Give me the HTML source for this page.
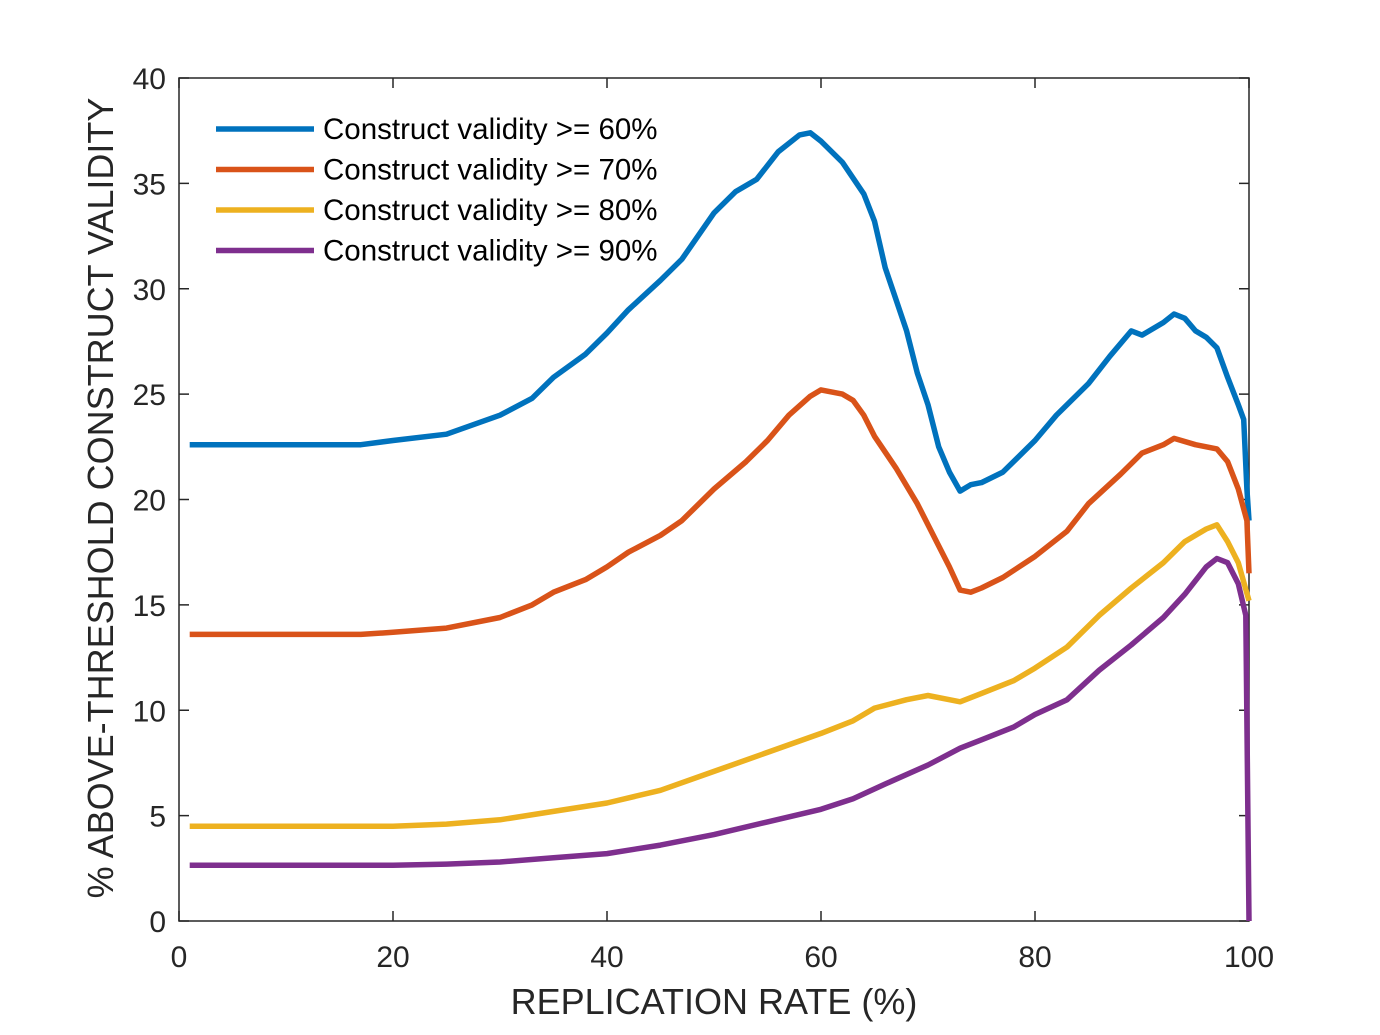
<!DOCTYPE html>
<html><head><meta charset="utf-8">
<style>
html,body{margin:0;padding:0;background:#fff;}
svg{display:block;font-family:"Liberation Sans",Arial,sans-serif;}
</style></head>
<body>
<svg id="chart" width="1380" height="1035" viewBox="0 0 1380 1035" xmlns="http://www.w3.org/2000/svg">
<rect x="0" y="0" width="1380" height="1035" fill="#fff"/>
<g id="plot"></g>
</svg>
<script>
const xTicks=[0,20,40,60,80,100];
const yTicks=[0,5,10,15,20,25,30,35,40];
const seriesNames=["Construct validity >= 60%","Construct validity >= 70%","Construct validity >= 80%","Construct validity >= 90%"];
const seriesColors=["#0072BD","#D95319","#EDB120","#7E2F8E"];
const blueX=[1,17,20,25,30,33,35,38,40,42,45,47,50,52,54,56,58,59,60,62,64,65,66,67,68,69,70,71,72,73,74,75,77,80,82,85,87,89,90,92,93,94,95,96,97,98,99,99.5,99.8,100];
const blueY=[22.6,22.6,22.8,23.1,24.0,24.8,25.8,26.9,27.9,29.0,30.4,31.4,33.6,34.6,35.2,36.5,37.3,37.4,37.0,36.0,34.5,33.2,31.0,29.5,28.0,26.0,24.5,22.5,21.3,20.4,20.7,20.8,21.3,22.8,24.0,25.5,26.8,28.0,27.8,28.4,28.8,28.6,28.0,27.7,27.2,25.8,24.5,23.8,20.5,19.0];
const orangeX=[1,17,20,25,30,33,35,38,40,42,45,47,50,53,55,57,59,60,62,63,64,65,67,69,71,72,73,74,75,77,80,83,85,88,90,92,93,95,97,98,99,99.8,100];
const orangeY=[13.6,13.6,13.7,13.9,14.4,15.0,15.6,16.2,16.8,17.5,18.3,19.0,20.5,21.8,22.8,24.0,24.9,25.2,25.0,24.7,24.0,23.0,21.5,19.8,17.8,16.8,15.7,15.6,15.8,16.3,17.3,18.5,19.8,21.2,22.2,22.6,22.9,22.6,22.4,21.8,20.5,19.0,16.5];
const yellowX=[1,20,25,30,35,40,45,50,55,60,63,65,68,70,72,73,75,78,80,83,86,89,92,94,96,97,98,99,100];
const yellowY=[4.5,4.5,4.6,4.8,5.2,5.6,6.2,7.1,8.0,8.9,9.5,10.1,10.5,10.7,10.5,10.4,10.8,11.4,12.0,13.0,14.5,15.8,17.0,18.0,18.6,18.8,18.0,17.0,15.2];
const purpleX=[1,20,25,30,35,40,45,50,55,60,63,66,70,73,75,78,80,83,86,89,92,94,96,97,98,99,99.7,100];
const purpleY=[2.65,2.65,2.7,2.8,3.0,3.2,3.6,4.1,4.7,5.3,5.8,6.5,7.4,8.2,8.6,9.2,9.8,10.5,11.9,13.1,14.4,15.5,16.8,17.2,17.0,16.0,14.5,0];

const L=179,R=1249,T=78,B=921;
const sx=v=>L+(v-0)/(100-0)*(R-L);
const sy=v=>B-(v-0)/(40-0)*(B-T);
const NS="http://www.w3.org/2000/svg";
const g=document.getElementById('plot');
function mk(tag,attrs){const e=document.createElementNS(NS,tag);for(const k in attrs)e.setAttribute(k,attrs[k]);g.appendChild(e);return e;}

const box=mk('rect',{x:L,y:T,width:R-L,height:B-T,fill:'none',stroke:'#262626','stroke-width':1.5});



xTicks.forEach(t=>{
  const x=sx(t);
  const a=mk('line',{x1:x,y1:B,x2:x,y2:B-10,stroke:'#262626','stroke-width':1.5});
  
  
  const b=mk('line',{x1:x,y1:T,x2:x,y2:T+10,stroke:'#262626','stroke-width':1.5});
  
  
  const tx=mk('text',{x:x,y:967,'text-anchor':'middle','font-size':30,fill:'#262626'});
  tx.textContent=t;
  
  
});
yTicks.forEach(t=>{
  const y=sy(t);
  const a=mk('line',{x1:L,y1:y,x2:L+10,y2:y,stroke:'#262626','stroke-width':1.5});
  
  
  const b=mk('line',{x1:R,y1:y,x2:R-10,y2:y,stroke:'#262626','stroke-width':1.5});
  
  
  const tx=mk('text',{x:166,y:y+11,'text-anchor':'end','font-size':30,fill:'#262626'});
  tx.textContent=t;
  
  
});

const xt=mk('text',{x:714,y:1014,'text-anchor':'middle','font-size':36,fill:'#262626'});
xt.textContent='REPLICATION RATE (%)';


const yt=mk('text',{x:0,y:0,'text-anchor':'middle','font-size':36,fill:'#262626',transform:'translate(113,498) rotate(-90)'});
yt.textContent='% ABOVE-THRESHOLD CONSTRUCT VALIDITY';



const allX=[blueX,orangeX,yellowX,purpleX];
const allY=[blueY,orangeY,yellowY,purpleY];
const ids=['series-60','series-70','series-80','series-90'];
allX.forEach((xs,i)=>{
  const d=xs.map((x,j)=>(j?'L':'M')+sx(x).toFixed(1)+','+sy(allY[i][j]).toFixed(1)).join(' ');
  const p=mk('path',{d:d,fill:'none',stroke:seriesColors[i],'stroke-width':5.5,'stroke-linejoin':'round'});
  
  
});

seriesNames.forEach((n,i)=>{
  const y=129+i*40.5;
  const l=mk('line',{x1:216,y1:y,x2:314,y2:y,stroke:seriesColors[i],'stroke-width':5.5});
  
  
  const t=mk('text',{x:323,y:y+10,'font-size':29.5,fill:'#000'});
  t.textContent=n;
  
  
});
</script>
</body></html>
